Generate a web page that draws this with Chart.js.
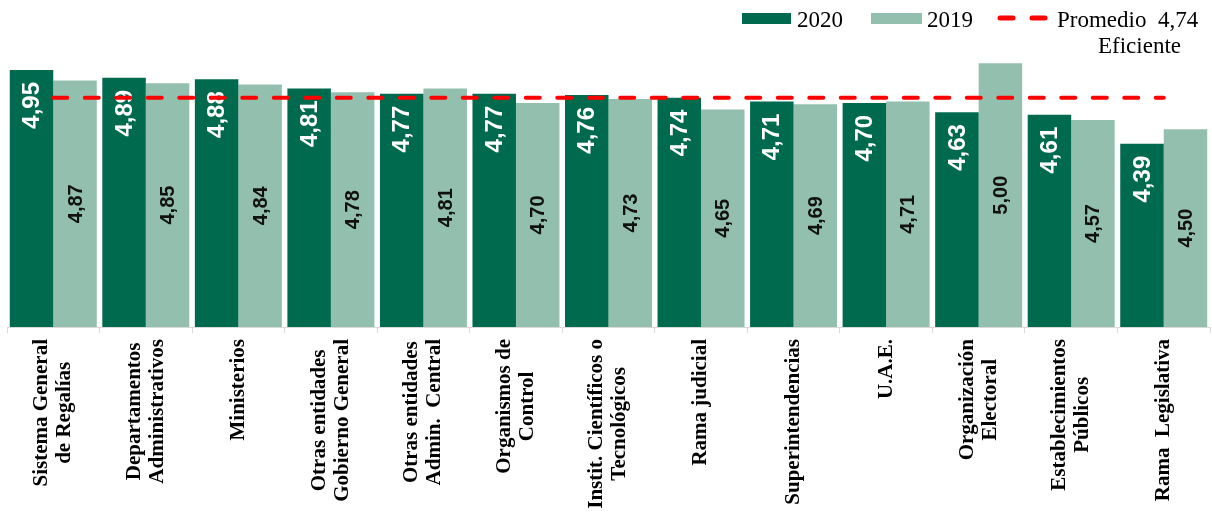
<!DOCTYPE html>
<html>
<head>
<meta charset="utf-8">
<script src="https://cdn.jsdelivr.net/npm/chart.js@4/dist/chart.umd.min.js"></script>
<style>
  body { margin: 0; background: #fff; }
  #wrap { width: 1212px; height: 513px; }
</style>
</head>
<body>
<div id="wrap"><canvas id="barChart"></canvas></div>
<script>
const categories = [
    ['Sistema General', 'de Regalías'],
    ['Departamentos', 'Administrativos'],
    ['Ministerios'],
    ['Otras entidades', 'Gobierno General'],
    ['Otras entidades', 'Admin.  Central'],
    ['Organismos de', 'Control'],
    ['Instit. Científicos o', 'Tecnológicos'],
    ['Rama judicial'],
    ['Superintendencias'],
    ['U.A.E.'],
    ['Organización', 'Electoral'],
    ['Establecimientos', 'Públicos'],
    ['Rama  Legislativa']
];
const values2020 = [4.95, 4.89, 4.88, 4.81, 4.77, 4.77, 4.76, 4.74, 4.71, 4.70, 4.63, 4.61, 4.39];
const values2019 = [4.87, 4.85, 4.84, 4.78, 4.81, 4.70, 4.73, 4.65, 4.69, 4.71, 5.00, 4.57, 4.50];
const promedio = 4.74;

const dark = 'rgb(0, 106, 78)';
const light = 'rgb(147, 191, 174)';
const red = '#ff0000';

function fmt(v) {
    return v.toFixed(2).replace('.', ',');
}

// value labels inside the bars, drawn before the dashed line
const valueLabels = {
    id: 'valueLabels',
    afterDatasetDraw(chart, args) {
        if (args.index > 1) return;
        const ctx = chart.ctx;
        const bottom = chart.chartArea.bottom;
        const meta = chart.getDatasetMeta(args.index);
        const data = chart.data.datasets[args.index].data;
        ctx.save();
        meta.data.forEach((bar, i) => {
            ctx.save();
            if (args.index === 0) {
                ctx.translate(bar.x, bar.y + 12);
                ctx.rotate(-Math.PI / 2);
                ctx.font = 'bold 24px "Liberation Sans"';
                ctx.fillStyle = '#fff';
                ctx.textAlign = 'right';
            } else {
                ctx.translate(bar.x, (bar.y + bottom) / 2);
                ctx.rotate(-Math.PI / 2);
                ctx.font = 'bold 20px "Liberation Sans"';
                ctx.fillStyle = '#111';
                ctx.textAlign = 'center';
            }
            ctx.textBaseline = 'middle';
            ctx.fillText(fmt(data[i]), 0, 1);
            ctx.restore();
        });
        ctx.restore();
    }
};

// rotated category labels and the legend
const extras = {
    id: 'extras',
    afterDraw(chart) {
        const ctx = chart.ctx;
        const xs = chart.scales.x;
        ctx.save();
        ctx.font = 'bold 21px "Liberation Serif"';
        ctx.fillStyle = '#000';
        ctx.textBaseline = 'middle';
        ctx.textAlign = 'center';
        categories.forEach((lines, i) => {
            const x = xs.getPixelForValue(i);
            const w = Math.max(...lines.map(l => ctx.measureText(l).width));
            ctx.save();
            ctx.translate(x, 339);
            ctx.rotate(-Math.PI / 2);
            lines.forEach((l, k) => {
                ctx.fillText(l, -w / 2, (k - (lines.length - 1) / 2) * 23);
            });
            ctx.restore();
        });

        // legend
        ctx.font = '23px "Liberation Serif"';
        ctx.textAlign = 'left';
        ctx.textBaseline = 'alphabetic';
        ctx.fillStyle = dark;
        ctx.fillRect(742, 13, 49, 11);
        ctx.fillStyle = light;
        ctx.fillRect(871, 13, 51, 11);
        ctx.strokeStyle = red;
        ctx.lineWidth = 5;
        ctx.lineCap = 'round';
        ctx.beginPath();
        ctx.moveTo(1000, 18); ctx.lineTo(1013, 18);
        ctx.moveTo(1032, 18); ctx.lineTo(1045, 18);
        ctx.stroke();
        ctx.fillStyle = '#000';
        ctx.fillText('2020', 797, 27);
        ctx.fillText('2019', 927, 27);
        ctx.fillText('Promedio  ' + fmt(promedio), 1057, 27);
        ctx.fillText('Eficiente', 1098, 53);
        ctx.restore();
    }
};

const ctx = document.getElementById('barChart').getContext('2d');
const myChart = new Chart(ctx, {
    type: 'bar',
    data: {
        labels: categories,
        datasets: [{
            label: '2020',
            data: values2020,
            backgroundColor: dark,
            borderWidth: 0,
            order: 1
        }, {
            label: '2019',
            data: values2019,
            backgroundColor: light,
            borderWidth: 0,
            order: 1
        }, {
            type: 'line',
            label: 'Promedio 4,74 Eficiente',
            data: categories.map(() => promedio),
            borderColor: red,
            borderWidth: 4,
            borderDash: [14, 17.5],
            borderCapStyle: 'round',
            pointRadius: 0,
            fill: false,
            order: 0
        }]
    },
    options: {
        responsive: true,
        maintainAspectRatio: false,
        animation: false,
        layout: { padding: { top: 37, bottom: 180, left: 7, right: 2 } },
        datasets: {
            bar: { categoryPercentage: 0.94, barPercentage: 1 }
        },
        plugins: {
            legend: { display: false },
            tooltip: { enabled: false }
        },
        scales: {
            x: {
                ticks: { display: false },
                grid: {
                    offset: true,
                    drawOnChartArea: false,
                    tickLength: 6,
                    color: '#d9d9d9'
                },
                border: { color: '#d9d9d9' }
            },
            y: {
                display: false,
                min: 3,
                max: 5.2
            }
        }
    },
    plugins: [valueLabels, extras]
});
</script>
</body>
</html>
